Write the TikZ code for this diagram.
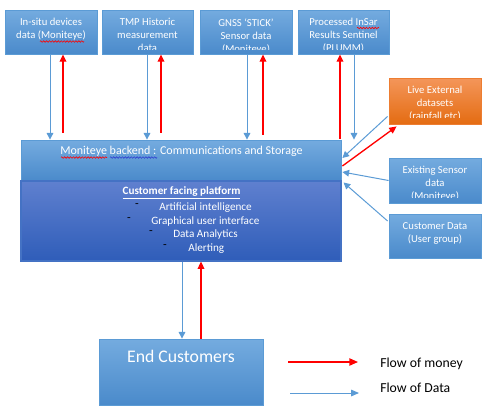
\documentclass[tikz,border=0pt]{standalone}
\usepackage{fontspec}
\setmainfont{Carlito}
\usetikzlibrary{arrows.meta,calc,decorations.pathmorphing}
\definecolor{btop}{HTML}{74ABDF}
\definecolor{bbot}{HTML}{4A8ACB}
\definecolor{bline}{HTML}{5B9BD5}
\definecolor{ptop}{HTML}{5F80CF}
\definecolor{pbot}{HTML}{2F5DB9}
\definecolor{pline}{HTML}{4472C4}
\definecolor{otop}{HTML}{F4965A}
\definecolor{obot}{HTML}{E46C12}
\definecolor{oline}{HTML}{ED7D31}
\definecolor{dataarrow}{HTML}{5B9BD5}
\definecolor{spellblue}{HTML}{2F3FD0}
\begin{document}
\begin{tikzpicture}[x=0.75pt,y=-0.75pt,
  box/.style={draw=bline, line width=0.6pt, top color=btop, bottom color=bbot, inner sep=0pt},
  obox/.style={draw=oline, line width=0.6pt, top color=otop, bottom color=obot, inner sep=0pt},
  pbox/.style={draw=pline, line width=0.8pt, top color=ptop, bottom color=pbot, inner sep=0pt},
  boxtext/.style={text=white, font=\fontsize{8}{9.75}\selectfont, align=center, inner sep=0pt},
  listtext/.style={text=white, font=\fontsize{8.4}{10}\selectfont, inner sep=0pt},
  dashtext/.style={text=black, font=\fontsize{9}{10}\selectfont, inner sep=0pt},
  legtext/.style={text=black, font=\fontsize{10.3}{12}\selectfont, inner sep=0pt, anchor=west},
  data/.style={draw=dataarrow, line width=0.75pt, -{Triangle[width=5pt,length=5pt]}},
  money/.style={draw=red, line width=1pt, -{Triangle[width=5pt,length=5.5pt]}},
  spell/.style={draw=red, line width=0.45pt, decorate, decoration={zigzag, amplitude=0.6pt, segment length=2.2pt}},
  spellb/.style={draw=spellblue, line width=0.45pt, decorate, decoration={zigzag, amplitude=0.6pt, segment length=2.2pt}}
]
\useasboundingbox (0,0) rectangle (492,415);

% top boxes
\node[box, minimum width=69pt, minimum height=33pt] (b1) at (51,32) {};
\node[box, minimum width=68.25pt, minimum height=33pt] (b2) at (147.5,32) {};
\node[box, minimum width=69pt, minimum height=33pt] (b3) at (246,32) {};
\node[box, minimum width=68.25pt, minimum height=33pt] (b4) at (343.5,32) {};
% right boxes
\node[obox, minimum width=69pt, minimum height=34.5pt] (live) at (435,101) {};
\node[box, minimum width=69pt, minimum height=33.75pt] (exist) at (435,180.5) {};
\node[box, minimum width=69pt, minimum height=33pt] (cust) at (435,236) {};
% backend and platform
\node[box, minimum width=240pt, minimum height=30.75pt] (backend) at (181,160.5) {};
\node[pbox, minimum width=240pt, minimum height=60pt] (platform) at (181,221) {};
% end customers
\node[box, minimum width=123pt, minimum height=49.5pt] (endc) at (181,372) {};

% clipped box texts
\foreach \b/\c/\t in {b1/5/{In-situ devices\\data (Moniteye)},
                   b2/5/{TMP Historic\\measurement\\data},
                   b3/5/{GNSS ‘STICK’\\Sensor data\\(Moniteye)},
                   b4/5/{Processed InSar\\Results Sentinel\\(PLUMM)},
                   live/7/{Live External\\datasets\\(rainfall etc)},
                   exist/6/{Existing Sensor\\data\\(Moniteye)},
                   cust/5/{Customer Data\\(User group)}}{
  \begin{scope}
    \clip (\b.north west) rectangle ($(\b.south east)+(0,-\c)$);
    \node[boxtext, anchor=north] (\b-t) at ($(\b.north)+(0,8.5)$) {\t};
  \end{scope}
}

\node[text=white, font=\fontsize{9}{11}\selectfont, inner sep=0pt] (backend-t) at ($(backend.north)+(0.5,12)$) {Moniteye backend : Communications and Storage};

\node[listtext, font=\bfseries\fontsize{8.4}{10}\selectfont] (ptitle) at (181.5,193) {\underline{Customer facing platform}};
\node[dashtext] (d1) at (137,206) {-};
\node[listtext, anchor=mid west] (l1) at (159,207) {Artificial intelligence};
\node[dashtext] (d2) at (129,220) {-};
\node[listtext, anchor=mid west] (l2) at (151,221) {Graphical user interface};
\node[dashtext] (d3) at (151,233) {-};
\node[listtext, anchor=mid west] (l3) at (173,234) {Data Analytics};
\node[dashtext] (d4) at (165,247) {-};
\node[listtext, anchor=mid west] (l4) at (188,248) {Alerting};

\node[text=white, font=\fontsize{13.3}{16}\selectfont, inner sep=0pt] (endc-t) at ($(endc.north)+(0,18)$) {End Customers};

% spelling marks
\draw[spell] (40,41.5) -- (84,41.5);
\draw[spell] (357,28) -- (379,28);
\draw[spell] (61,157.5) -- (107,157.5);
\draw[spellb] (110,157.5) -- (157,157.5);

% vertical connectors
\path (b1.south) ++(-1,0) coordinate (b1d) ++(13,0) coordinate (b1m);
\path (b2.south) ++(-0.5,0) coordinate (b2d) ++(14,0) coordinate (b2m);
\path (b3.south) ++(1,0) coordinate (b3d) ++(16,0) coordinate (b3m);
\path (b4.south) ++(-3.5,0) coordinate (b4m) ++(14,0) coordinate (b4d);
\draw[data] (b1d) -- (b1d |- backend.north);
\draw[money] ($(b1m |- backend.north)+(0,-7)$) -- (b1m);
\draw[data] (b2d) -- (b2d |- backend.north);
\draw[money] ($(b2m |- backend.north)+(0,-7)$) -- (b2m);
\draw[data] (b3d) -- (b3d |- backend.north);
\draw[money] ($(b3m |- backend.north)+(0,-5)$) -- (b3m);
\draw[data] (b4d) -- (b4d |- backend.north);
\draw[money] ($(b4m |- backend.north)+(0,-1)$) -- (b4m);

% side connectors
\draw[data] ($(live.south west)+(-1,-8)$) -- ($(backend.east)+(1,-2.5)$);
\draw[money] ($(backend.east)+(1,5.5)$) -- ($(live.south west)+(8,2)$);
\draw[data] (exist.west) -- ($(backend.east)+(1,11.5)$);
\draw[data] ($(cust.west)+(-1,-15)$) -- ($(platform.north east)+(2,2)$);

% end customers connectors
\path (endc.north) ++(1,0) coordinate (ed) ++(19,0) coordinate (em);
\draw[data] (ed |- platform.south) -- (ed);
\draw[money] (em) -- (em |- platform.south);

% legend
\coordinate (lm1) at (288,362);
\coordinate (lm2) at (358,362);
\coordinate (ld1) at (290,393);
\coordinate (ld2) at (359,393);
\draw[money, -{Triangle[width=5.5pt,length=6.5pt]}] (lm1) -- (lm2);
\draw[data, -{Triangle[width=5pt,length=6pt]}] (ld1) -- (ld2);
\node[legtext] (lmt) at (380,364) {Flow of money};
\node[legtext] (ldt) at (380,388) {Flow of Data};
\end{tikzpicture}
\end{document}
